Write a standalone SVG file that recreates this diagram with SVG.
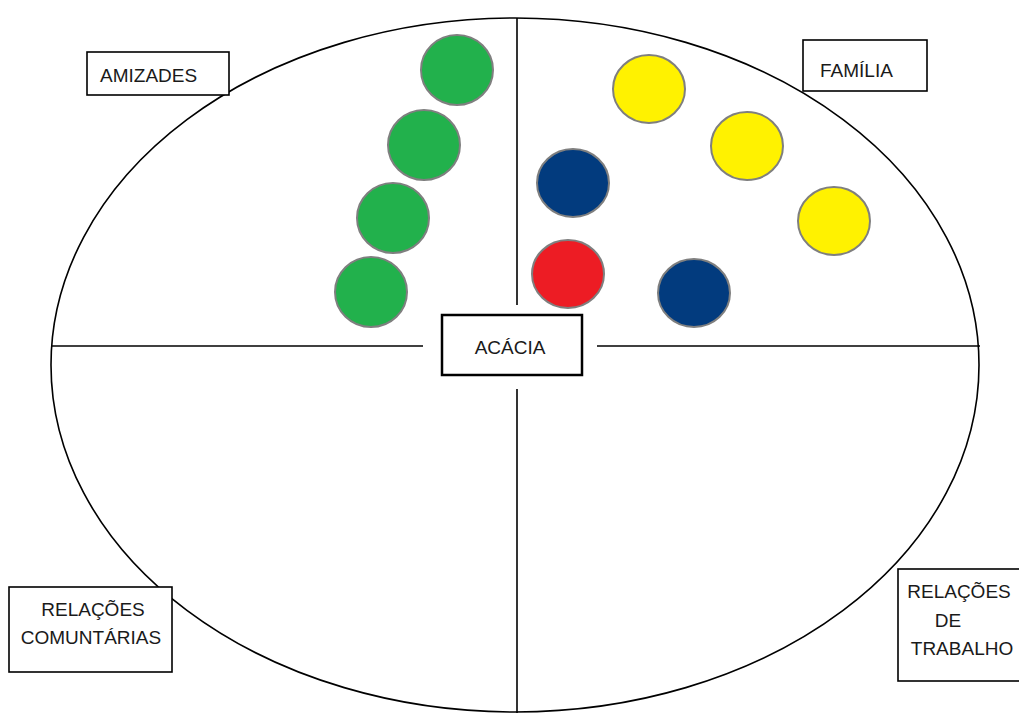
<svg xmlns="http://www.w3.org/2000/svg" width="1019" height="713" viewBox="0 0 1019 713">
<style>
.line{stroke:#000;stroke-width:1.6;fill:none}
.box{fill:#fff;stroke:#000;stroke-width:1.6}
.lbl{font-family:"Liberation Sans",Arial,sans-serif;font-size:19px;fill:#1a1a1a}
.c{stroke:#7f7f7f;stroke-width:2}
.g{fill:#22b14c}.y{fill:#fff200}.b{fill:#023b7e}.r{fill:#ed1c24}
</style>
<rect width="1019" height="713" fill="#fff"/>
<g id="connectors">
<ellipse class="line" cx="515" cy="365" rx="464" ry="347"/>
<line class="line" x1="517" y1="18" x2="517" y2="305"/>
<line class="line" x1="517" y1="389" x2="517" y2="713"/>
<line class="line" x1="51" y1="346" x2="423" y2="346"/>
<line class="line" x1="597" y1="346" x2="980" y2="346"/>
</g>
<g id="amizades"><rect class="box" x="87" y="52" width="142" height="43"/><text class="lbl" x="100" y="82">AMIZADES</text></g>
<g id="familia"><rect class="box" x="803" y="40" width="124" height="51"/><text class="lbl" x="820" y="77">FAMÍLIA</text></g>
<g id="acacia"><rect class="box" x="442" y="315" width="140" height="60" style="stroke-width:2.5"/><text class="lbl" x="510" y="354" text-anchor="middle">ACÁCIA</text></g>
<g id="comunitarias"><rect class="box" x="9" y="587" width="163" height="85"/><text class="lbl" text-anchor="middle"><tspan x="93" y="616">RELAÇÕES</tspan><tspan x="91" y="644">COMUNTÁRIAS</tspan></text></g>
<g id="trabalho"><rect class="box" x="898" y="569" width="130" height="112"/><text class="lbl" text-anchor="middle"><tspan x="959" y="598">RELAÇÕES</tspan><tspan x="948" y="627">DE</tspan><tspan x="962" y="655">TRABALHO</tspan></text></g>
<g id="green1"><ellipse class="c g" cx="457" cy="70" rx="36" ry="35"/></g>
<g id="green2"><ellipse class="c g" cx="424" cy="145" rx="36" ry="35"/></g>
<g id="green3"><ellipse class="c g" cx="393" cy="218" rx="36" ry="35"/></g>
<g id="green4"><ellipse class="c g" cx="371" cy="292" rx="36" ry="35"/></g>
<g id="yellow1"><ellipse class="c y" cx="649" cy="89" rx="36" ry="34"/></g>
<g id="yellow2"><ellipse class="c y" cx="747" cy="146" rx="36" ry="34"/></g>
<g id="yellow3"><ellipse class="c y" cx="834" cy="221" rx="36" ry="34"/></g>
<g id="blue1"><ellipse class="c b" cx="573" cy="183" rx="36" ry="34"/></g>
<g id="blue2"><ellipse class="c b" cx="694" cy="293" rx="36" ry="34"/></g>
<g id="red1"><ellipse class="c r" cx="568" cy="274" rx="36" ry="34"/></g>
</svg>
